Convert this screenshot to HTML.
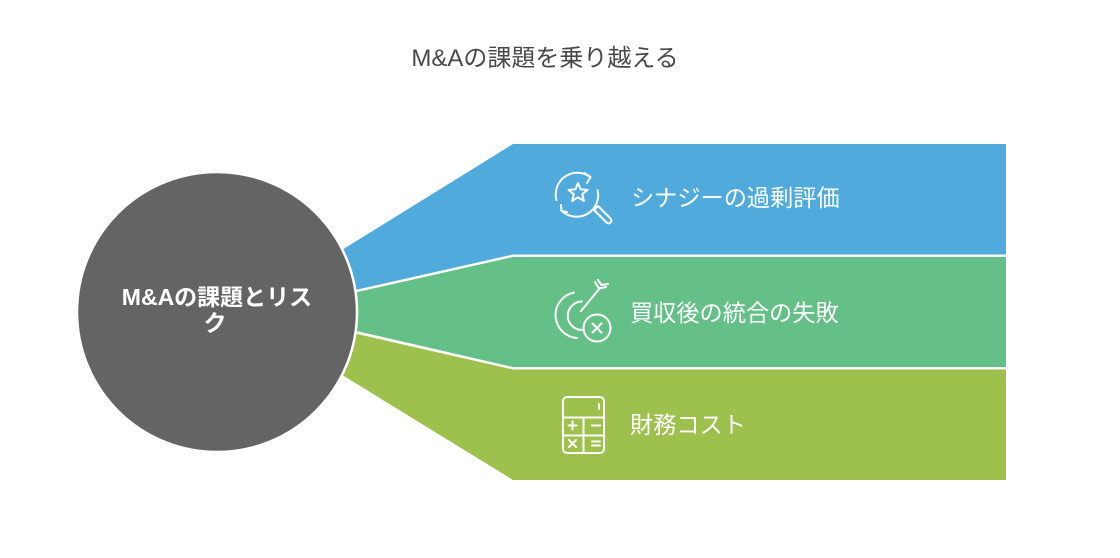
<!DOCTYPE html>
<html>
<head>
<meta charset="utf-8">
<style>
  html,body{margin:0;padding:0;background:#fff;}
  body{width:1120px;height:558px;overflow:hidden;}
  svg{display:block;}
  text{font-family:"Liberation Sans","Noto Sans CJK JP",sans-serif;}
</style>
</head>
<body>
<svg width="1120" height="558" viewBox="0 0 1120 558" xmlns="http://www.w3.org/2000/svg">
  <rect width="1120" height="558" fill="#ffffff"/>

  <!-- Title -->
  <text x="545" y="66" text-anchor="middle" font-size="24" fill="#484848">M&amp;Aの課題を乗り越える</text>

  <!-- Bands -->
  <polygon points="300,276 513,144 1006,144 1006,254.5 513,254.5 300,302.5" fill="#50abdc"/>
  <polygon points="300,305 513,257 1006,257 1006,367 513,367 300,318" fill="#64c087"/>
  <polygon points="300,321 513,369.5 1006,369.5 1006,480 513,480 300,349" fill="#9ec04d"/>

  <!-- Central circle -->
  <circle cx="217" cy="312" r="140" fill="#646464" stroke="#ffffff" stroke-width="2.5"/>
  <text x="217" y="305" text-anchor="middle" font-size="23" font-weight="bold" fill="#ffffff">M&amp;Aの課題とリス</text>
  <text x="215" y="331" text-anchor="middle" font-size="23" font-weight="bold" fill="#ffffff">ク</text>

  <!-- Band labels -->
  <text x="631" y="206" font-size="23.2" fill="#ffffff">シナジーの過剰評価</text>
  <text x="630" y="321" font-size="23.2" fill="#ffffff">買収後の統合の失敗</text>
  <text x="630" y="433" font-size="23.2" fill="#ffffff">財務コスト</text>

  <!-- Icon 1: star with rotating arrows + magnifier -->
  <g fill="none" stroke="#ffffff" stroke-width="2" stroke-linecap="round" stroke-linejoin="round">
    <path d="M556.5,200 A21.5,21.5 0 0 1 590,177"/>
    <polyline points="584.5,173 590.5,177 587,183"/>
    <path d="M597.5,190 A21.5,21.5 0 0 1 562,211"/>
    <polyline points="567,212 561.5,211 561,205"/>
    <!-- star -->
    <polygon points="578,183 580.6,189.4 587.5,189.9 582.2,194.3 583.9,201 578,197.3 572.1,201 573.8,194.3 568.5,189.9 575.4,189.4"/>
    <!-- handle -->
    <path d="M594,210 L598,206 L610.5,218.5 A2.8,2.8 0 0 1 606.5,222.5 Z"/>
  </g>

  <!-- Icon 2: target arcs, arrow, x-circle -->
  <g fill="none" stroke="#ffffff" stroke-width="2" stroke-linecap="round" stroke-linejoin="round">
    <path d="M574,292.5 A23,23 0 0 0 577,338"/>
    <path d="M582,301.5 A14,14 0 0 0 582,330"/>
    <line x1="581" y1="311" x2="600" y2="288"/>
    <polyline points="595,282 599,288.5 606,287"/>
    <polyline points="598,280 601.5,285 608,284"/>
    <circle cx="597" cy="328" r="13.5"/>
    <line x1="592.5" y1="323.5" x2="601.5" y2="332.5"/>
    <line x1="601.5" y1="323.5" x2="592.5" y2="332.5"/>
  </g>

  <!-- Icon 3: calculator -->
  <g fill="none" stroke="#ffffff" stroke-width="2" stroke-linecap="round" stroke-linejoin="round">
    <rect x="563" y="397" width="41" height="56" rx="4" ry="4"/>
    <line x1="563" y1="417.5" x2="604" y2="417.5"/>
    <line x1="583.5" y1="417.5" x2="583.5" y2="453"/>
    <line x1="563" y1="435.5" x2="604" y2="435.5"/>
    <line x1="599" y1="404" x2="599" y2="409"/>
    <line x1="568.5" y1="425.5" x2="576.5" y2="425.5"/>
    <line x1="572.5" y1="421.5" x2="572.5" y2="429.5"/>
    <line x1="592" y1="425.5" x2="600" y2="425.5"/>
    <line x1="569" y1="440" x2="576" y2="447"/>
    <line x1="576" y1="440" x2="569" y2="447"/>
    <line x1="592" y1="441.5" x2="600" y2="441.5"/>
    <line x1="592" y1="445.5" x2="600" y2="445.5"/>
  </g>
</svg>
</body>
</html>
